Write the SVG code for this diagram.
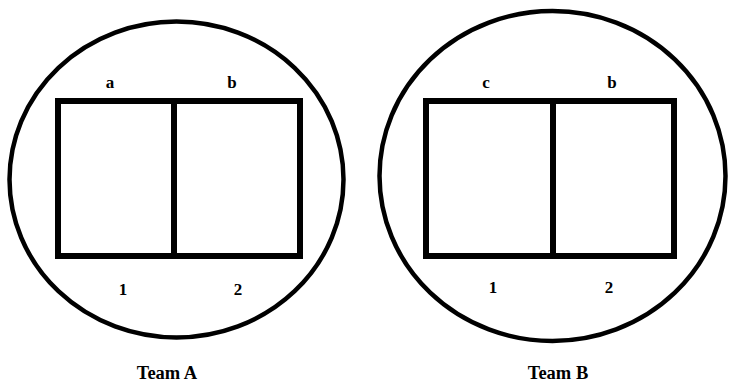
<svg xmlns="http://www.w3.org/2000/svg" width="729" height="383" viewBox="0 0 729 383">
<style>
.ring{fill:none;stroke:#000;stroke-width:4.5}
.box{fill:none;stroke:#000;stroke-width:6}
.lbl{font-family:"Liberation Serif","Times New Roman",serif;font-weight:bold;font-size:17px;fill:#000;text-anchor:middle}
.ttl{font-family:"Liberation Serif","Times New Roman",serif;font-weight:bold;font-size:18.5px;fill:#000;text-anchor:middle}
</style>
<rect width="729" height="383" fill="#fff"/>
<g id="teamA">
<ellipse class="ring" cx="176.5" cy="179.5" rx="167" ry="158"/>
<rect class="box" x="58" y="101" width="242" height="155"/>
<line class="box" x1="174" y1="101" x2="174" y2="256"/>
<text class="lbl" x="110" y="88">a</text>
<text class="lbl" x="232" y="88">b</text>
<text class="lbl" x="123" y="295">1</text>
<text class="lbl" x="238" y="295">2</text>
<text class="ttl" x="167" y="379">Team A</text>
</g>
<g id="teamB">
<ellipse class="ring" cx="552.5" cy="176" rx="173" ry="165"/>
<rect class="box" x="426" y="101" width="248" height="155"/>
<line class="box" x1="553" y1="101" x2="553" y2="256"/>
<text class="lbl" x="486" y="88">c</text>
<text class="lbl" x="612" y="88">b</text>
<text class="lbl" x="493" y="293">1</text>
<text class="lbl" x="609" y="293">2</text>
<text class="ttl" x="558" y="379">Team B</text>
</g>
<g id="connectors"/>
</svg>
